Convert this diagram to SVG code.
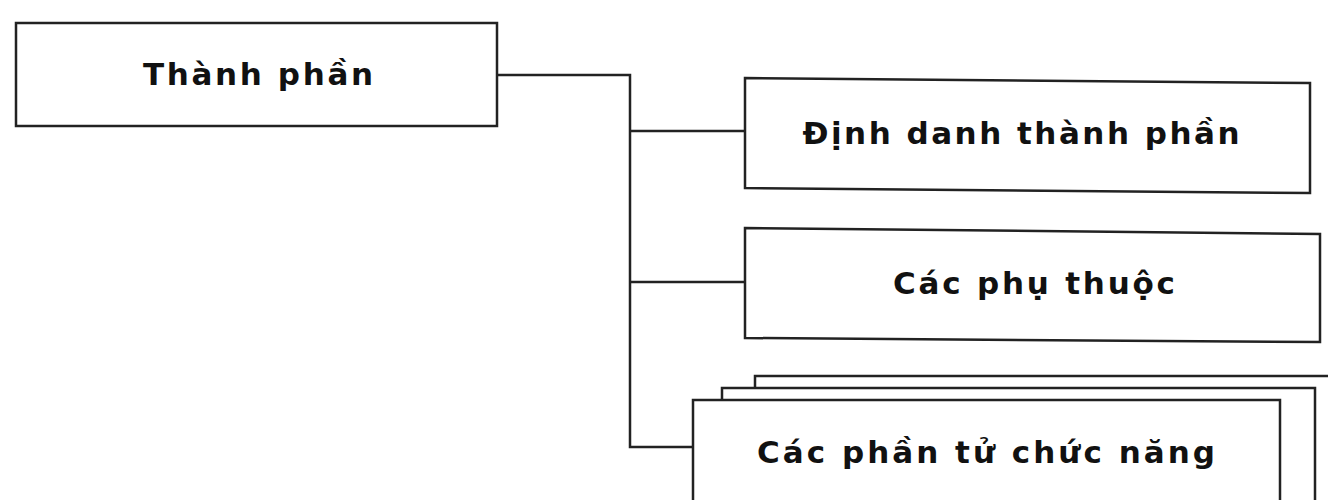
<svg xmlns="http://www.w3.org/2000/svg" width="1328" height="500" viewBox="0 0 1328 500">
<style>
.box{fill:#fff;stroke:#222;stroke-width:2.5}
.lbl{font-family:"DejaVu Sans","Liberation Sans",sans-serif;font-weight:bold;font-size:31px;fill:#111;text-anchor:middle}
.con{fill:none;stroke:#222;stroke-width:2.5}
</style>
<rect width="1328" height="500" fill="#fff"/>
<g id="connectors">
<polyline class="con" points="497,75 630,75 630,447 693,447"/>
<line class="con" x1="630" y1="131" x2="745" y2="131"/>
<line class="con" x1="630" y1="282" x2="745" y2="282"/>
<line class="con" x1="1315" y1="488" x2="1328" y2="488"/>
</g>
<g id="n-thanhphan">
<rect class="box" x="16" y="23" width="481" height="103"/>
<text class="lbl" x="258" y="85" textLength="230" lengthAdjust="spacing">Thành phần</text>
</g>
<g id="n-dinhdanh">
<polygon class="box" points="745,78 1310,83 1310,193 745,188"/>
<text class="lbl" x="1021" y="144" textLength="437" lengthAdjust="spacing">Định danh thành phần</text>
</g>
<g id="n-phuthuoc">
<polygon class="box" points="745,228 1320,234 1320,342 745,338"/>
<text class="lbl" x="1034" y="294" textLength="282" lengthAdjust="spacing">Các phụ thuộc</text>
</g>
<g id="n-phantu">
<rect class="box" x="755" y="376" width="590" height="140"/>
<rect class="box" x="722" y="388" width="593" height="140"/>
<rect class="box" x="693" y="400" width="587" height="120"/>
<text class="lbl" x="986" y="463" textLength="458" lengthAdjust="spacing">Các phần tử chức năng</text>
</g>
</svg>
